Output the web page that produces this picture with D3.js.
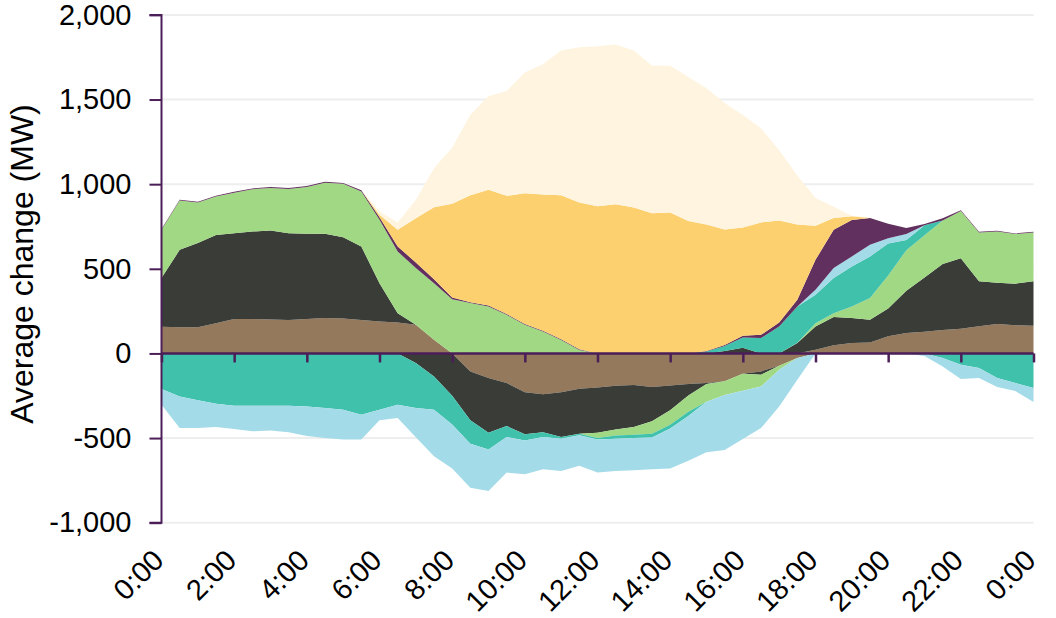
<!DOCTYPE html>
<html><head><meta charset="utf-8">
<script src="https://cdn.jsdelivr.net/npm/d3@7"></script>
<style>
body{margin:0;background:#fff}
svg{display:block}
text{font-family:"Liberation Sans",Arial,sans-serif;fill:#000}
</style>
</head><body>
<svg id="chart" width="1056" height="618"></svg>
<script>
// Half-hourly categories
const times = ["0:00","0:30","1:00","1:30","2:00","2:30","3:00","3:30","4:00","4:30","5:00","5:30",
"6:00","6:30","7:00","7:30","8:00","8:30","9:00","9:30","10:00","10:30","11:00","11:30",
"12:00","12:30","13:00","13:30","14:00","14:30","15:00","15:30","16:00","16:30","17:00","17:30",
"18:00","18:30","19:00","19:30","20:00","20:30","21:00","21:30","22:00","22:30","23:00","23:30","24:00"];
const xTickLabels = ["0:00","2:00","4:00","6:00","8:00","10:00","12:00","14:00","16:00","18:00","20:00","22:00","0:00"];
const yTicks = [-1000,-500,0,500,1000,1500,2000];
const yTitle = "Average change (MW)";

// Series (MW, signed)
const hydro = [158,154,154,179,203,203,200,197,203,209,206,197,189,183,169,81,0,-106,-145,-175,-229,-241,-229,-209,-201,-191,-187,-199,-189,-181,-175,-165,-120,-106,-73,-27,22,48,61,65,101,121,128,138,146,160,174,166,164];
const coal = [287,458,498,521,507,517,526,513,504,498,481,435,226,55,-56,-136,-250,-289,-323,-254,-249,-224,-265,-265,-267,-258,-248,-202,-146,-68,-5,14,34,-20,0,61,137,167,148,134,164,249,321,390,417,267,244,246,263];
const gas = [285,291,239,227,240,250,252,262,277,302,315,324,375,364,335,334,320,298,278,228,169,129,79,20,-32,-36,-45,-73,-86,-96,-105,-80,-100,-70,-23,2,20,23,68,128,195,240,249,258,279,288,303,293,288];
const battery = [-210,-254,-277,-297,-309,-309,-309,-309,-313,-323,-332,-362,-332,-303,-267,-196,-170,-139,-100,-65,-36,-29,-10,-10,-8,-19,-20,-23,-23,-24,12,30,60,91,159,214,167,207,237,246,190,60,60,-27,-67,-86,-145,-175,-204];
const imports = [-93,-187,-164,-138,-137,-151,-147,-157,-175,-177,-177,-147,-63,-78,-172,-276,-260,-259,-245,-210,-200,-190,-190,-180,-196,-190,-190,-187,-236,-265,-299,-325,-285,-245,-217,-128,30,59,59,69,30,35,-15,-50,-84,-59,-53,-47,-83];
const other = [5,5,5,5,5,5,5,5,5,5,5,8,15,30,33,24,10,5,5,5,5,5,5,4,0,0,0,0,0,0,3,6,10,19,24,40,177,226,216,158,86,36,7,12,4,4,4,4,4];
const solar = [0,0,0,0,0,0,0,0,0,0,0,0,15,98,262,425,555,632,684,698,773,805,851,867,870,881,862,828,832,782,747,682,640,664,603,444,202,70,21,0,0,0,0,0,0,0,0,0,0];
const rooftop = [0,0,0,0,0,0,0,0,0,0,0,0,20,43,108,230,330,475,553,619,712,770,854,918,945,944,927,871,867,851,804,748,665,556,414,290,164,67,4,0,0,0,0,0,0,0,0,0,0];

const keys = ["hydro","coal","gas","battery","imports","other","solar","rooftop"];
const colors = {hydro:"#94795c",coal:"#3a3c38",gas:"#a1d884",battery:"#40c1ac",imports:"#a4dbe8",other:"#62305f",solar:"#fdd06f",rooftop:"#fef4df"};
const src = {hydro,coal,gas,battery,imports,other,solar,rooftop};
const rows = times.map((t,i)=>{const r={t,i}; keys.forEach(k=>r[k]=src[k][i]); return r;});

const svg = d3.select("#chart");
const axisColor = "#4b1e58";
const x = d3.scaleLinear().domain([0, times.length-1]).range([161.5, 1033.5]);
const y = d3.scaleLinear().domain([-1000, 2000]).range([522.7, 14.9]);

// gridlines
svg.append("g").selectAll("line").data(yTicks).join("line")
  .attr("x1", x(0)).attr("x2", x(times.length-1))
  .attr("y1", d=>y(d)).attr("y2", d=>y(d))
  .attr("stroke", "#eeeeee").attr("stroke-width", 2);

// stacked areas: increases stacked upward, decreases stacked downward
const posSeries = d3.stack().keys(keys).value((r,k)=>Math.max(0, r[k]))(rows);
const negSeries = d3.stack().keys(keys).value((r,k)=>Math.min(0, r[k]))(rows);
const area = d3.area().x((d,i)=>x(i)).y0(d=>y(d[0])).y1(d=>y(d[1]));
const ga = svg.append("g");
ga.selectAll("path.neg").data(negSeries).join("path").attr("class","neg")
  .attr("fill", d=>colors[d.key]).attr("d", area);
ga.selectAll("path.pos").data(posSeries).join("path").attr("class","pos")
  .attr("fill", d=>colors[d.key]).attr("d", area);

// y axis
const yAxis = d3.axisLeft(y).tickValues(yTicks).tickSize(12).tickPadding(18)
  .tickFormat(d=>d3.format(",")(d).replace("\u2212","-"));
const gy = svg.append("g").attr("transform", `translate(${x(0)},0)`).call(yAxis);
gy.select(".domain").attr("stroke", axisColor).attr("stroke-width", 2).attr("d", `M-12,${y(2000)}H0V${y(-1000)}H-12`);
gy.selectAll(".tick line").attr("stroke", axisColor).attr("stroke-width", 2);
gy.selectAll(".tick text").attr("font-size", 29).attr("fill","#000")
  .attr("font-family", '"Liberation Sans",Arial,sans-serif');

// x axis on zero line
const tickIdx = d3.range(0, times.length, 4);
const xAxis = d3.axisBottom(x).tickValues(tickIdx).tickSize(9).tickFormat("");
const gx = svg.append("g").attr("transform", `translate(0,${y(0)})`).call(xAxis);
gx.select(".domain").attr("stroke", axisColor).attr("stroke-width", 2.5).attr("d", `M${x(0)},0H${x(times.length-1)}`);
gx.selectAll(".tick line").attr("stroke", axisColor).attr("stroke-width", 2.5);

// rotated x labels at bottom
svg.append("g").selectAll("text").data(tickIdx).join("text")
  .attr("transform", (d)=>`translate(${x(d)+4},562) rotate(-45)`)
  .attr("text-anchor","end").attr("font-size", 29)
  .text((d,i)=>xTickLabels[i]);

// y title
svg.append("text").attr("transform", "translate(33,264) rotate(-90)")
  .attr("text-anchor","middle").attr("font-size", 32).text(yTitle);
</script>
</body></html>
